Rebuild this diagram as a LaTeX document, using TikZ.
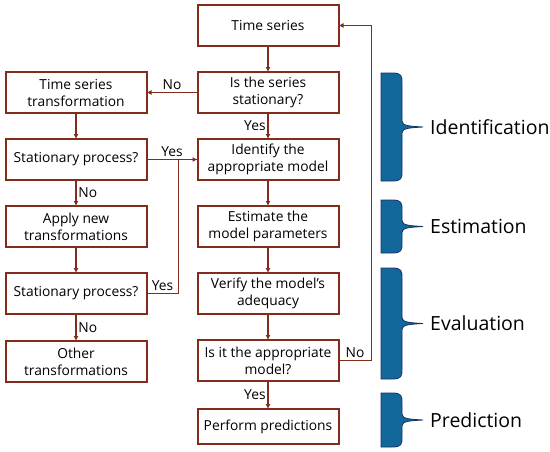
\documentclass[tikz,border=0pt]{standalone}
\usepackage{fontspec}
\setmainfont{Open Sans}
\usetikzlibrary{arrows.meta,positioning}

\definecolor{boxred}{RGB}{130,45,28}
\definecolor{bracefill}{RGB}{18,104,155}
\definecolor{braceline}{RGB}{25,50,100}

\begin{document}
\begin{tikzpicture}[
    x=1pt, y=-1pt,
    node distance=26pt and 51pt,
    block/.style={rectangle, draw=boxred, line width=2pt, fill=white,
      minimum width=141pt, minimum height=41pt, inner sep=0pt, outer sep=0pt,
      align=center, font=\fontsize{13.8}{17}\selectfont},
    arr/.style={-{Latex[length=5pt,width=5pt]}, draw=boxred, line width=1.8pt},
    link/.style={draw=boxred, line width=1.8pt},
    labl/.style={font=\fontsize{13.8}{15}\selectfont, inner sep=1.5pt},
    phase/.style={font=\fontsize{19.5}{22}\selectfont, anchor=west, inner sep=0pt}
  ]
    \useasboundingbox (0,0) rectangle (550,451);

    % ── Main column ──────────────────────────────────────────
    \node[block] (tseries) at (268,25.5) {Time series};
    \node[block, below=of tseries]  (isstat)   {Is the series\\stationary?};
    \node[block, below=of isstat]   (identify) {Identify the\\appropriate model};
    \node[block, below=of identify] (estimate) {Estimate the\\model parameters};
    \node[block, below=of estimate] (verify)   {Verify the model's\\adequacy};
    \node[block, below=of verify]   (isapp)    {Is it the appropriate\\model?};
    \node[block, below=28pt of isapp, minimum height=35pt] (predict) {Perform predictions};

    % ── Transformation column ────────────────────────────────
    \node[block, left=of isstat]   (tstrans) {Time series\\transformation};
    \node[block, left=of identify] (stat1)   {Stationary process?};
    \node[block, left=of estimate] (apply)   {Apply new\\transformations};
    \node[block, left=of verify]   (stat2)   {Stationary process?};
    \node[block, below=27pt of stat2] (other) {Other\\transformations};

    % ── Forward edges ────────────────────────────────────────
    \draw[arr] (tseries)  -- (isstat);
    \draw[arr] (isstat)   -- node[labl,left]{Yes} (identify);
    \draw[arr] (identify) -- (estimate);
    \draw[arr] (estimate) -- (verify);
    \draw[arr] (verify)   -- (isapp);
    \draw[arr] (isapp)    -- node[labl,left]{Yes} (predict);

    \draw[arr] (isstat.west) -- node[labl,above]{No} (tstrans.east);
    \draw[arr] (tstrans) -- (stat1);
    \draw[arr] (stat1)   -- node[labl,right]{No} (apply);
    \draw[arr] (apply)   -- (stat2);
    \draw[arr] (stat2)   -- node[labl,right]{No} (other);
    \draw[arr] (stat1.east) -- node[labl,above]{Yes} (identify.west);

    % ── Second test joins the YES edge ───────────────────────
    \draw[link] (stat2.east) -- node[labl,above]{Yes} ++(32,0) |- (identify.west);

    % ── NO: model not appropriate, back to the series ────────
    \draw[arr] (isapp.east) -- node[labl,above]{No} ++(33,0) |- (tseries.east);

    % ── Phase braces ─────────────────────────────────────────
    \foreach \t/\b/\txt in {73/181/Identification, 200/253/Estimation,
                            268/379/Evaluation, 393/447/Prediction} {
      \pgfmathsetmacro\m{(\t+\b)/2}
      \filldraw[fill=bracefill, draw=braceline, line width=0.8pt]
        (381,\t) -- (392,\t) .. controls (402,\t) and (402,\t+3) .. (402,\t+10)
        -- (402,\m-6) .. controls (402,\m-1) and (410,\m-0.8) .. (423,\m)
        .. controls (410,\m+0.8) and (402,\m+1) .. (402,\m+6)
        -- (402,\b-10) .. controls (402,\b-3) and (402,\b) .. (392,\b)
        -- (381,\b) -- cycle;
      \node[phase] (ph-\t) at (430,\m) {\txt};
    }
\end{tikzpicture}
\end{document}
